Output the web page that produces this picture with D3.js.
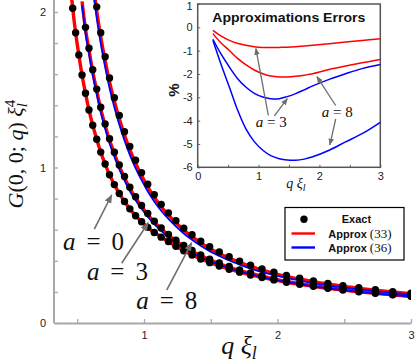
<!DOCTYPE html>
<html>
<head>
<meta charset="utf-8">
<script src="https://cdn.jsdelivr.net/npm/d3@7"></script>
<style>
body { margin: 0; background: #fff; }
svg { display: block; }
</style>
</head>
<body>
<svg id="chart"></svg>
<script>
// q xi_l grid of the exact points (log spaced)
var qGrid = [0.445, 0.466, 0.488, 0.512, 0.536, 0.562, 0.588, 0.616, 0.646, 0.676, 0.709,
    0.742, 0.778, 0.815, 0.854, 0.894, 0.937, 0.982, 1.028, 1.077, 1.129, 1.183, 1.239,
    1.298, 1.360, 1.425, 1.492, 1.564, 1.638, 1.716, 1.798, 1.884, 1.973, 2.067, 2.166,
    2.269, 2.377, 2.490, 2.609, 2.733, 2.863, 3.000];

// exact G(0,0;q) xi^4 for a = 0, 3, 8
var exactA0 = [2.198, 2.024, 1.866, 1.724, 1.595, 1.477, 1.370, 1.272, 1.182, 1.099, 1.022,
    0.953, 0.890, 0.833, 0.781, 0.734, 0.690, 0.651, 0.615, 0.582, 0.552, 0.524, 0.493,
    0.464, 0.437, 0.412, 0.388, 0.367, 0.346, 0.327, 0.309, 0.293, 0.277, 0.262, 0.249,
    0.236, 0.223, 0.212, 0.201, 0.191, 0.181, 0.172];
var exactA3 = [null, null, null, null, 2.080, 1.901, 1.767, 1.629, 1.504, 1.387, 1.280,
    1.185, 1.098, 1.016, 0.942, 0.873, 0.812, 0.756, 0.704, 0.655, 0.611, 0.570, 0.532,
    0.498, 0.466, 0.437, 0.410, 0.386, 0.363, 0.341, 0.322, 0.303, 0.286, 0.270, 0.255,
    0.241, 0.228, 0.216, 0.204, 0.194, 0.183, 0.174];
var exactA8 = [null, null, null, null, null, null, null, 2.227, 2.033, 1.866, 1.712,
    1.575, 1.449, 1.335, 1.230, 1.135, 1.047, 0.967, 0.893, 0.825, 0.763, 0.708, 0.658,
    0.610, 0.567, 0.526, 0.490, 0.457, 0.426, 0.398, 0.371, 0.347, 0.326, 0.306, 0.288,
    0.271, 0.255, 0.240, 0.227, 0.214, 0.202, 0.191];

// inset: approximation errors in %
var qErr = [0.25, 0.38, 0.52, 0.65, 0.79, 0.93, 1.07, 1.2, 1.34, 1.47, 1.61, 1.75, 1.89, 2.16, 2.43, 2.7, 3.0];
var errRed3 = [-0.13, -0.37, -0.56, -0.68, -0.77, -0.83, -0.86, -0.87, -0.86, -0.85, -0.83, -0.80, -0.77, -0.70, -0.63, -0.56, -0.49];
var errRed8 = [-0.27, -0.66, -0.99, -1.32, -1.60, -1.83, -1.99, -2.09, -2.13, -2.13, -2.10, -2.05, -1.99, -1.81, -1.66, -1.52, -1.38];
var errBlue3 = [-0.51, -1.13, -1.70, -2.18, -2.56, -2.83, -2.99, -3.06, -3.06, -2.97, -2.84, -2.68, -2.51, -2.23, -1.99, -1.77, -1.59];
var errBlue8 = [-0.55, -1.56, -2.56, -3.51, -4.34, -4.90, -5.27, -5.50, -5.63, -5.69, -5.70, -5.65, -5.55, -5.27, -4.91, -4.56, -4.07];

var xTicks = [0.5, 1, 1.5, 2, 2.5, 3];
var yTicks = [0, 0.2, 0.4, 0.6, 0.8, 1, 1.2, 1.4, 1.6, 1.8, 2];
var insetXTicks = [0, 0.5, 1, 1.5, 2, 2.5, 3];
var insetYTicks = [-6, -5, -4, -3, -2, -1, 0, 1];

var width = 415, height = 362;
var sans = "'Liberation Sans', Arial, sans-serif";
var serif = "'Liberation Serif', 'Times New Roman', serif";

var svg = d3.select("#chart").attr("width", width).attr("height", height);
svg.append("rect").attr("width", width).attr("height", height).attr("fill", "#fff");

var x = d3.scaleLinear().domain([0.326, 3]).range([54, 411]);
var y = d3.scaleLinear().domain([0, 2.077]).range([323, 0]);

var defs = svg.append("defs");
defs.append("clipPath").attr("id", "clip")
    .append("rect").attr("x", 54).attr("y", 0).attr("width", 357).attr("height", 323);

function marker(id, w) {
    defs.append("marker").attr("id", id)
        .attr("viewBox", "0 0 10 10").attr("refX", 9).attr("refY", 5)
        .attr("markerWidth", w).attr("markerHeight", w)
        .attr("markerUnits", "userSpaceOnUse").attr("orient", "auto")
        .append("path").attr("d", "M0,1L10,5L0,9z").attr("fill", "#6e6e6e");
}
marker("ahBig", 9);
marker("ahSmall", 7);

// main axes
var isInt = d => Math.abs(d - Math.round(d)) < 1e-9;
var gy = svg.append("g").attr("transform", "translate(54,0)")
    .call(d3.axisLeft(y).tickValues(yTicks).tickSizeInner(-4).tickSizeOuter(0).tickPadding(8)
        .tickFormat(d => isInt(d) ? d3.format("d")(d) : ""));
var gx = svg.append("g").attr("transform", "translate(0,323)")
    .call(d3.axisBottom(x).tickValues(xTicks).tickSizeInner(-4).tickSizeOuter(0).tickPadding(8)
        .tickFormat(d => isInt(d) ? d3.format("d")(d) : ""));
[gy, gx].forEach(g => {
    g.select(".domain").attr("stroke", "#a8a8a8").attr("stroke-width", 2);
    g.selectAll(".tick line").attr("stroke", "#a8a8a8").attr("stroke-width", 1.3);
    g.selectAll(".tick text").attr("font-family", sans).attr("font-size", 11).attr("fill", "#222");
});
gy.select(".domain").attr("d", "M0," + y(0) + "V0");

// curves
function approx(g, err) {
    var e = err ? d3.scaleLinear().domain(qErr).range(err).clamp(true) : () => 0;
    return qGrid.map((q, i) => g[i] == null ? null : [q, g[i] * (1 + e(q) / 100)])
        .filter(d => d);
}
var line = d3.line().x(d => x(d[0])).y(d => y(d[1])).curve(d3.curveMonotoneX);

var plot = svg.append("g").attr("clip-path", "url(#clip)");
plot.append("path").datum(approx(exactA0, null)).attr("d", line)
    .attr("fill", "none").attr("stroke", "#0000ff").attr("stroke-width", 2);
[[exactA0, null], [exactA3, errRed3], [exactA8, errRed8]].forEach(s => {
    plot.append("path").datum(approx(s[0], s[1])).attr("d", line)
        .attr("fill", "none").attr("stroke", "#ff0000").attr("stroke-width", 3.4);
});
[[exactA3, errBlue3], [exactA8, errBlue8]].forEach(s => {
    plot.append("path").datum(approx(s[0], s[1])).attr("d", line)
        .attr("fill", "none").attr("stroke", "#0000ff").attr("stroke-width", 1.8);
});
[exactA0, exactA3, exactA8].forEach(g => {
    var pts = qGrid.map((q, i) => [q, g[i]]).filter(d => d[1] != null && d[1] <= 2.05);
    plot.selectAll(null).data(pts).enter().append("circle")
        .attr("cx", d => x(d[0])).attr("cy", d => y(d[1])).attr("r", 3.7).attr("fill", "#000");
});

// annotations in the main panel
function arrow(sx, sy, a, id) {
    svg.append("line")
        .attr("x1", sx(a[0])).attr("y1", sy(a[1])).attr("x2", sx(a[2])).attr("y2", sy(a[3]))
        .attr("stroke", "#6e6e6e").attr("stroke-width", id == "ahBig" ? 1.6 : 1.3)
        .attr("marker-end", "url(#" + id + ")");
}
function aLabel(px, py, val, size, len) {
    var t = svg.append("text").attr("x", px).attr("y", py).attr("text-anchor", "middle")
        .attr("font-family", serif).attr("font-size", size).attr("fill", "#111")
        .attr("textLength", len).attr("lengthAdjust", "spacing");
    t.append("tspan").attr("font-style", "italic").text("a");
    t.append("tspan").text(" = " + val);
}
var mainLabels = [
    { val: 0, q: 0.622, g: 0.469, arrow: [0.628, 0.603, 0.758, 0.823] },
    { val: 3, q: 0.801, g: 0.277, arrow: [0.833, 0.384, 1.032, 0.645] },
    { val: 8, q: 1.170, g: 0.090, arrow: [1.170, 0.212, 1.357, 0.516] }
];
mainLabels.forEach(d => {
    arrow(x, y, d.arrow, "ahBig");
    aLabel(x(d.q), y(d.g), d.val, 25, 61);
});

// axis titles
var yl = svg.append("text").attr("transform", "translate(23,154) rotate(-90)")
    .attr("text-anchor", "middle").attr("font-family", serif).attr("font-size", 22).attr("fill", "#111");
yl.append("tspan").attr("font-style", "italic").text("G");
yl.append("tspan").text("(0, 0; ");
yl.append("tspan").attr("font-style", "italic").text("q");
yl.append("tspan").text(") ");
yl.append("tspan").attr("font-style", "italic").text("ξ");
yl.append("tspan").attr("font-style", "italic").attr("font-size", 15).attr("dy", 4).text("l");
yl.append("tspan").attr("font-size", 15).attr("dx", -4).attr("dy", -12).text("4");

var xl = svg.append("text").attr("x", 239).attr("y", 354).attr("text-anchor", "middle")
    .attr("font-family", serif).attr("font-size", 26).attr("font-style", "italic").attr("fill", "#111");
xl.append("tspan").text("q ξ");
xl.append("tspan").attr("font-size", 18).attr("dy", 5).text("l");

// legend
var lg = svg.append("g");
lg.append("rect").attr("x", 285).attr("y", 207.5).attr("width", 119).attr("height", 52.5)
    .attr("fill", "#fff").attr("stroke", "#000").attr("stroke-width", 1.2);
lg.append("circle").attr("cx", 304).attr("cy", 219.3).attr("r", 3.7).attr("fill", "#000");
lg.append("text").attr("x", 341.7).attr("y", 223).attr("font-family", sans).attr("font-size", 11)
    .attr("font-weight", "bold").attr("fill", "#111").text("Exact");
[["#ff0000", "(33)", 233.5], ["#0000ff", "(36)", 247.5]].forEach(e => {
    lg.append("line").attr("x1", 291.5).attr("x2", 315).attr("y1", e[2]).attr("y2", e[2])
        .attr("stroke", e[0]).attr("stroke-width", 2.4);
    var t = lg.append("text").attr("x", 328.3).attr("y", e[2] + 4).attr("fill", "#111");
    t.append("tspan").attr("font-family", sans).attr("font-size", 11).attr("font-weight", "bold").text("Approx ");
    t.append("tspan").attr("font-family", serif).attr("font-size", 13).text(e[1]);
});

// inset
var xi = d3.scaleLinear().domain([0, 3]).range([197.7, 380.3]);
var yi = d3.scaleLinear().domain([-6, 1]).range([167.3, 4]);
var inset = svg.append("g");
inset.append("rect").attr("x", 197.7).attr("y", 4).attr("width", 182.6).attr("height", 163.3)
    .attr("fill", "#fff");
var giy = inset.append("g").attr("transform", "translate(197.7,0)")
    .call(d3.axisLeft(yi).tickValues(insetYTicks).tickSizeInner(-2.5).tickSizeOuter(0).tickPadding(5)
        .tickFormat(d => String(d)));
var gix = inset.append("g").attr("transform", "translate(0,167.3)")
    .call(d3.axisBottom(xi).tickValues(insetXTicks).tickSizeInner(-2.5).tickSizeOuter(0).tickPadding(5)
        .tickFormat(d => isInt(d) ? String(d) : ""));
[giy, gix].forEach(g => {
    g.select(".domain").remove();
    g.selectAll(".tick line").attr("stroke", "#666");
    g.selectAll(".tick text").attr("font-family", sans).attr("font-size", 11).attr("fill", "#222");
});
// keep the top label inside the picture
giy.selectAll(".tick text").filter(d => d === 1).attr("y", 1.5);
inset.append("rect").attr("x", 197.7).attr("y", 4).attr("width", 182.6).attr("height", 163.3)
    .attr("fill", "none").attr("stroke", "#555").attr("stroke-width", 1.5);

var iline = d3.line().x((d, i) => xi(qErr[i])).y(d => yi(d)).curve(d3.curveCatmullRom.alpha(0.5));
[[errRed3, "#ff0000"], [errRed8, "#ff0000"], [errBlue3, "#0000ff"], [errBlue8, "#0000ff"]].forEach(s => {
    inset.append("path").datum(s[0]).attr("d", iline)
        .attr("fill", "none").attr("stroke", s[1]).attr("stroke-width", 1.5);
});

inset.append("text").attr("x", 212.3).attr("y", 22).attr("font-family", sans).attr("font-size", 13)
    .attr("font-weight", "bold").attr("fill", "#111")
    .attr("textLength", 153).attr("lengthAdjust", "spacingAndGlyphs").text("Approximations Errors");
inset.append("text").attr("transform", "translate(178.5,90) rotate(-90)").attr("text-anchor", "middle")
    .attr("font-family", sans).attr("font-size", 15).attr("font-weight", "bold").attr("fill", "#111").text("%");
var ixl = inset.append("text").attr("x", 296).attr("y", 188).attr("text-anchor", "middle")
    .attr("font-family", serif).attr("font-size", 14).attr("font-style", "italic").attr("fill", "#111");
ixl.append("tspan").text("q ξ");
ixl.append("tspan").attr("font-size", 10).attr("dy", 3).text("l");

var insetLabels = [
    { val: 3, q: 1.21, e: -4.27, arrows: [[1.161, -3.77, 0.956, -0.91], [1.259, -3.80, 1.472, -3.06]] },
    { val: 8, q: 2.292, e: -3.84, arrows: [[2.267, -3.35, 1.959, -2.11], [2.267, -3.93, 2.172, -5.04]] }
];
insetLabels.forEach(d => {
    d.arrows.forEach(a => arrow(xi, yi, a, "ahSmall"));
    aLabel(xi(d.q), yi(d.e), d.val, 15, 31);
});
</script>
</body>
</html>
